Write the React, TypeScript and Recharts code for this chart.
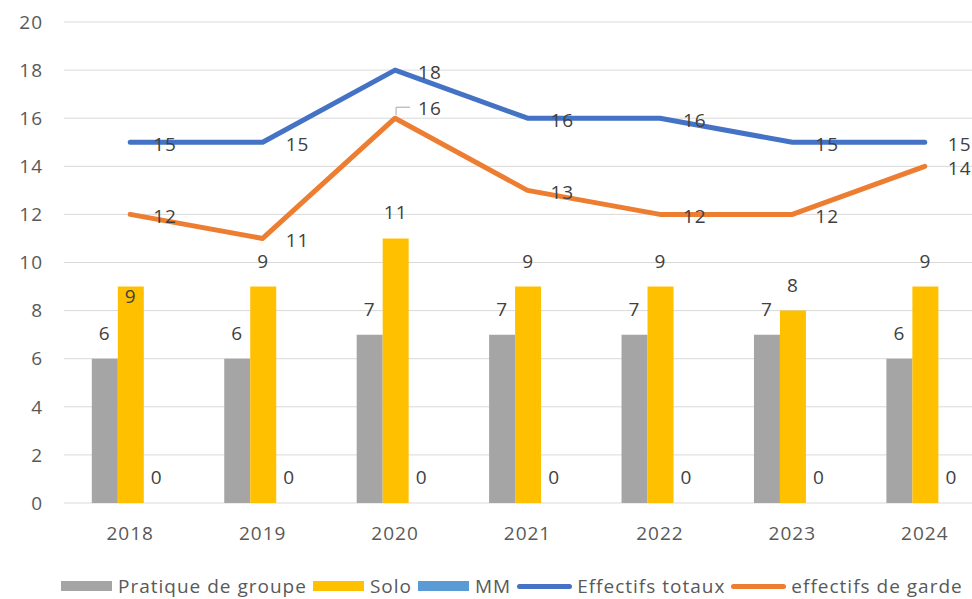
import React from 'react';
import { ComposedChart, Bar, Line, XAxis, YAxis, CartesianGrid, Legend, LabelList } from 'recharts';

const years = ['2018', '2019', '2020', '2021', '2022', '2023', '2024'];
const pratiqueGroupe = [6, 6, 7, 7, 7, 7, 6];
const solo = [9, 9, 11, 9, 9, 8, 9];
const mm = [0, 0, 0, 0, 0, 0, 0];
const effectifsTotaux = [15, 15, 18, 16, 16, 15, 15];
const effectifsGarde = [12, 11, 16, 13, 12, 12, 14];
const yTicks = [0, 2, 4, 6, 8, 10, 12, 14, 16, 18, 20];

const legendItems = [
  { label: 'Pratique de groupe', color: '#a5a5a5', kind: 'bar' },
  { label: 'Solo', color: '#ffc000', kind: 'bar' },
  { label: 'MM', color: '#5b9bd5', kind: 'bar' },
  { label: 'Effectifs totaux', color: '#4472c4', kind: 'line' },
  { label: 'effectifs de garde', color: '#ed7d31', kind: 'line' },
];

const data = years.map((year, i) => ({
  year,
  groupe: pratiqueGroupe[i],
  solo: solo[i],
  mm: mm[i],
  totaux: effectifsTotaux[i],
  garde: effectifsGarde[i],
}));

const FONT = '"Open Sans", sans-serif';
const LABEL_COLOR = '#404040';
const SPACING = 1;

const ValueText = ({ x, y, anchor = 'middle', children }: any) => (
  <text x={x} y={y} textAnchor={anchor} dominantBaseline="central"
    fontSize={19} fontFamily={FONT} fill={LABEL_COLOR} style={{ letterSpacing: SPACING }}>
    {children}
  </text>
);

const BarLabel = (props: any) => {
  const { x, y, width, value } = props;
  return <ValueText x={x + width / 2} y={y - 26}>{value}</ValueText>;
};

// Solo label: the first one was pushed inside the bar in Excel.
// The zero-height MM bars sit just right of Solo, so their labels are drawn here too.
const SoloLabel = (props: any) => {
  const { x, y, width, height, value, index } = props;
  const cy = index === 0 ? y + 9 : y - 26;
  return (
    <g>
      <ValueText x={x + width / 2} y={cy}>{value}</ValueText>
      <ValueText x={x + width * 1.5} y={y + height - 26}>{mm[index]}</ValueText>
    </g>
  );
};

const LineLabel = (props: any) => {
  const { x, y, value, index, lifted } = props;
  if (lifted && index === 2) {
    // label moved up, with a small leader line back to the point
    return (
      <g>
        <polyline points={`${x + 1},${y - 3} ${x + 1},${y - 11} ${x + 15},${y - 11}`}
          fill="none" stroke="#a6a6a6" strokeWidth={1} />
        <ValueText x={x + 23} y={y - 10} anchor="start">{value}</ValueText>
      </g>
    );
  }
  return <ValueText x={x + 23} y={y + 2} anchor="start">{value}</ValueText>;
};

const renderLegend = () => (
  <div style={{ display: 'flex', alignItems: 'center', height: 26, fontFamily: FONT, fontSize: 19, letterSpacing: SPACING, color: '#595959', whiteSpace: 'nowrap' }}>
    {legendItems.map((item) => (
      <div key={item.label} style={{ display: 'flex', alignItems: 'center', marginRight: 6 }}>
        {item.kind === 'bar' ? (
          <span style={{ display: 'inline-block', width: 51, height: 10, background: item.color, marginRight: 6 }} />
        ) : (
          <span style={{ display: 'inline-block', width: 55, height: 5, borderRadius: 3, background: item.color, marginRight: 5 }} />
        )}
        <span>{item.label}</span>
      </div>
    ))}
  </div>
);

const tickStyle = { fill: '#595959', fontSize: 19, fontFamily: FONT, style: { letterSpacing: SPACING } };

export default function App() {
  return (
    <div style={{ position: 'absolute', left: 0, top: 0, width: 972, height: 599, overflow: 'hidden', background: '#fff' }}>
      <ComposedChart width={1000} height={599} data={data}
        margin={{ top: 22, right: 9, left: 0, bottom: 0 }}
        barCategoryGap="21%" barGap={0}>
        <CartesianGrid vertical={false} stroke="#d9d9d9" strokeWidth={1} />
        <XAxis dataKey="year" axisLine={false} tickLine={false} height={70} tickMargin={18} tick={tickStyle} />
        <YAxis domain={[0, 20]} ticks={yTicks} width={64} axisLine={false} tickLine={false} tickMargin={15} tick={tickStyle} />
        <Legend verticalAlign="bottom" content={renderLegend} wrapperStyle={{ left: 61, bottom: 0, width: 'auto' }} />
        <Bar dataKey="groupe" name="Pratique de groupe" fill="#a5a5a5" isAnimationActive={false}>
          <LabelList dataKey="groupe" content={<BarLabel />} />
        </Bar>
        <Bar dataKey="solo" name="Solo" fill="#ffc000" isAnimationActive={false}>
          <LabelList dataKey="solo" content={<SoloLabel />} />
        </Bar>
        <Bar dataKey="mm" name="MM" fill="#5b9bd5" isAnimationActive={false} />
        <Line dataKey="totaux" name="Effectifs totaux" stroke="#4472c4" strokeWidth={5} dot={false}
          strokeLinecap="round" strokeLinejoin="round" isAnimationActive={false}>
          <LabelList dataKey="totaux" content={<LineLabel />} />
        </Line>
        <Line dataKey="garde" name="effectifs de garde" stroke="#ed7d31" strokeWidth={5} dot={false}
          strokeLinecap="round" strokeLinejoin="round" isAnimationActive={false}>
          <LabelList dataKey="garde" content={<LineLabel lifted />} />
        </Line>
      </ComposedChart>
    </div>
  );
}
